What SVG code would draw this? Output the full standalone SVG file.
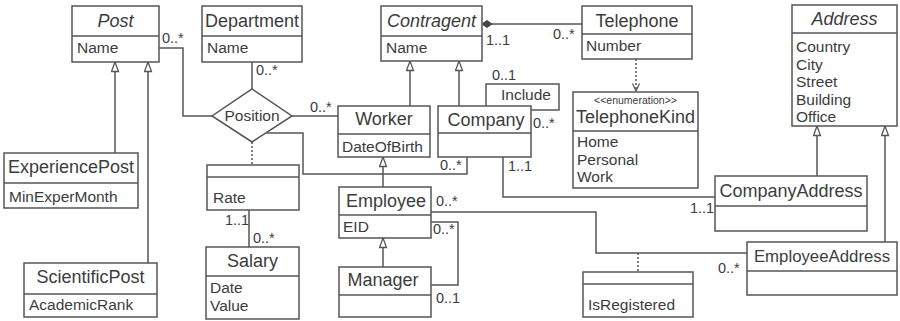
<svg xmlns="http://www.w3.org/2000/svg" width="900" height="321" viewBox="0 0 900 321">
<style>
.box{fill:#fff;stroke:#555;stroke-width:1.5}
.ln{fill:none;stroke:#555;stroke-width:1.5}
.dot{stroke-dasharray:2 2}
text{font-family:"Liberation Sans",Arial,sans-serif;fill:#3c3c3c}
.cn{font-size:18px;text-anchor:middle}
.it{font-style:italic}
.at{font-size:15.5px}
.m{font-size:14.5px}
.st{font-size:10.5px;text-anchor:middle}
</style>
<defs>
<marker id="gen" markerUnits="userSpaceOnUse" markerWidth="12" markerHeight="9" viewBox="0 0 12 9" refX="10.5" refY="4.5" orient="auto-start-reverse">
<path d="M1,1 L10.5,4.5 L1,8 Z" fill="#fff" stroke="#555" stroke-width="1.3"/>
</marker>
<marker id="open" markerUnits="userSpaceOnUse" markerWidth="10" markerHeight="9" viewBox="0 0 10 9" refX="8.5" refY="4.5" orient="auto">
<path d="M1,1 L8.5,4.5 L1,8" fill="none" stroke="#555" stroke-width="1.2"/>
</marker>
</defs>
<rect width="900" height="321" fill="#fff"/>

<g id="connectors">
<!-- generalizations -->
<path class="ln" d="M115,62 V153" marker-start="url(#gen)"/>
<path class="ln" d="M148,62 V263" marker-start="url(#gen)"/>
<path class="ln" d="M410,61 V106" marker-start="url(#gen)"/>
<path class="ln" d="M459,61 V106" marker-start="url(#gen)"/>
<path class="ln" d="M383,157 V187" marker-start="url(#gen)"/>
<path class="ln" d="M383,238 V267" marker-start="url(#gen)"/>
<path class="ln" d="M817,126 V176" marker-start="url(#gen)"/>
<path class="ln" d="M885,126 V242" marker-start="url(#gen)"/>
<!-- Post - Position -->
<path class="ln" d="M159,48 H183 V116 H212"/>
<text class="m" x="162" y="43">0..*</text>
<!-- Department - Position -->
<path class="ln" d="M252,62 V89"/>
<text class="m" x="256" y="75">0..*</text>
<!-- Position - Worker -->
<path class="ln" d="M292,116 H338"/>
<text class="m" x="310" y="112">0..*</text>
<!-- Position - Company -->
<path class="ln" d="M266,133 H303 V174 H467 V157"/>
<text class="m" x="440" y="170">0..*</text>
<!-- Position - Rate (association class) -->
<path class="ln dot" d="M252,142 V165"/>
<!-- Rate - Salary -->
<path class="ln" d="M249,210 V247"/>
<text class="m" x="225" y="225">1..1</text>
<text class="m" x="253" y="243">0..*</text>
<!-- Contragent - Telephone (composition) -->
<path class="ln" d="M492,24 H582"/>
<polygon points="482,24 487,20.5 492,24 487,27.5" fill="#444" stroke="#444" stroke-width="1"/>
<text class="m" x="486" y="45">1..1</text>
<text class="m" x="553" y="39">0..*</text>
<!-- Telephone - TelephoneKind dependency -->
<path class="ln dot" d="M636,59 V91" marker-end="url(#open)"/>
<!-- Company Include self-association -->
<path class="ln" d="M486,106 V84 H559 V110 H531"/>
<text class="at" x="501" y="100">Include</text>
<text class="m" x="492" y="80">0..1</text>
<text class="m" x="533" y="128">0..*</text>
<!-- Company - CompanyAddress -->
<path class="ln" d="M503,157 V197 H715"/>
<text class="m" x="508" y="171">1..1</text>
<text class="m" x="690" y="213">1..1</text>
<!-- Employee - EmployeeAddress -->
<path class="ln" d="M431,212 H596 V253 H747"/>
<text class="m" x="436" y="206">0..*</text>
<text class="m" x="718" y="273">0..*</text>
<path class="ln dot" d="M638,253 V272"/>
<!-- Employee - Manager -->
<path class="ln" d="M431,222 H458 V285 H431"/>
<text class="m" x="433" y="234">0..*</text>
<text class="m" x="436" y="303">0..1</text>
</g>

<g id="Post">
<rect class="box" x="72" y="6" width="87" height="56"/>
<line class="ln" x1="72" y1="36" x2="159" y2="36"/>
<text class="cn it" x="115.5" y="27">Post</text>
<text class="at" x="77" y="53">Name</text>
</g>
<g id="Department">
<rect class="box" x="202" y="6" width="100" height="56"/>
<line class="ln" x1="202" y1="36" x2="302" y2="36"/>
<text class="cn" x="252" y="27">Department</text>
<text class="at" x="207" y="53">Name</text>
</g>
<g id="Contragent">
<rect class="box" x="381" y="6" width="101" height="55"/>
<line class="ln" x1="381" y1="36" x2="482" y2="36"/>
<text class="cn it" x="431.5" y="27">Contragent</text>
<text class="at" x="386" y="53">Name</text>
</g>
<g id="Telephone">
<rect class="box" x="582" y="6" width="110" height="53"/>
<line class="ln" x1="582" y1="34" x2="692" y2="34"/>
<text class="cn" x="637" y="27">Telephone</text>
<text class="at" x="586" y="51">Number</text>
</g>
<g id="Address">
<rect class="box" x="792" y="5" width="105" height="121"/>
<line class="ln" x1="792" y1="33" x2="897" y2="33"/>
<text class="cn it" x="844.5" y="25">Address</text>
<text class="at" x="796" y="52">Country</text>
<text class="at" x="796" y="69.5">City</text>
<text class="at" x="796" y="87">Street</text>
<text class="at" x="796" y="104.5">Building</text>
<text class="at" x="796" y="122">Office</text>
</g>
<g id="Position">
<polygon class="box" points="252,89 292,116 252,142 212,116"/>
<text class="at" x="252" y="121" text-anchor="middle">Position</text>
</g>
<g id="Worker">
<rect class="box" x="338" y="106" width="92" height="51"/>
<line class="ln" x1="338" y1="134" x2="430" y2="134"/>
<text class="cn" x="384" y="125">Worker</text>
<text class="at" x="342" y="152">DateOfBirth</text>
</g>
<g id="Company">
<rect class="box" x="438" y="106" width="93" height="51"/>
<line class="ln" x1="438" y1="133" x2="531" y2="133"/>
<text class="cn" x="486" y="126">Company</text>
</g>
<g id="TelephoneKind">
<rect class="box" x="573" y="92" width="125" height="96"/>
<line class="ln" x1="573" y1="131" x2="698" y2="131"/>
<text class="st" x="635.5" y="104">&lt;&lt;enumeration&gt;&gt;</text>
<text class="cn" x="635.5" y="123">TelephoneKind</text>
<text class="at" x="577" y="147">Home</text>
<text class="at" x="577" y="164.5">Personal</text>
<text class="at" x="577" y="182">Work</text>
</g>
<g id="ExperiencePost">
<rect class="box" x="4" y="153" width="134" height="55"/>
<line class="ln" x1="4" y1="183" x2="138" y2="183"/>
<text class="cn" x="71" y="173">ExperiencePost</text>
<text class="at" x="9" y="202">MinExperMonth</text>
</g>
<g id="Rate">
<rect class="box" x="207" y="165" width="92" height="45"/>
<line class="ln" x1="207" y1="177" x2="299" y2="177"/>
<text class="at" x="213" y="203">Rate</text>
</g>
<g id="Employee">
<rect class="box" x="339" y="187" width="92" height="51"/>
<line class="ln" x1="339" y1="215" x2="431" y2="215"/>
<text class="cn" x="386" y="207">Employee</text>
<text class="at" x="343" y="232">EID</text>
</g>
<g id="CompanyAddress">
<rect class="box" x="715" y="176" width="152" height="55"/>
<line class="ln" x1="715" y1="206" x2="867" y2="206"/>
<text class="cn" x="791" y="197">CompanyAddress</text>
</g>
<g id="Salary">
<rect class="box" x="206" y="247" width="93" height="72"/>
<line class="ln" x1="206" y1="276" x2="299" y2="276"/>
<text class="cn" x="252.5" y="267">Salary</text>
<text class="at" x="210" y="293">Date</text>
<text class="at" x="210" y="311">Value</text>
</g>
<g id="Manager">
<rect class="box" x="339" y="267" width="92" height="50"/>
<line class="ln" x1="339" y1="295" x2="431" y2="295"/>
<text class="cn" x="383" y="286">Manager</text>
</g>
<g id="ScientificPost">
<rect class="box" x="24" y="263" width="133" height="54"/>
<line class="ln" x1="24" y1="294" x2="157" y2="294"/>
<text class="cn" x="90.5" y="283">ScientificPost</text>
<text class="at" x="29" y="310">AcademicRank</text>
</g>
<g id="IsRegistered">
<rect class="box" x="583" y="272" width="110" height="45"/>
<line class="ln" x1="583" y1="284" x2="693" y2="284"/>
<text class="at" x="588" y="310">IsRegistered</text>
</g>
<g id="EmployeeAddress">
<rect class="box" x="747" y="242" width="150" height="53"/>
<line class="ln" x1="747" y1="271" x2="897" y2="271"/>
<text class="cn" x="822" y="262" style="font-size:16.8px">EmployeeAddress</text>
</g>
</svg>
